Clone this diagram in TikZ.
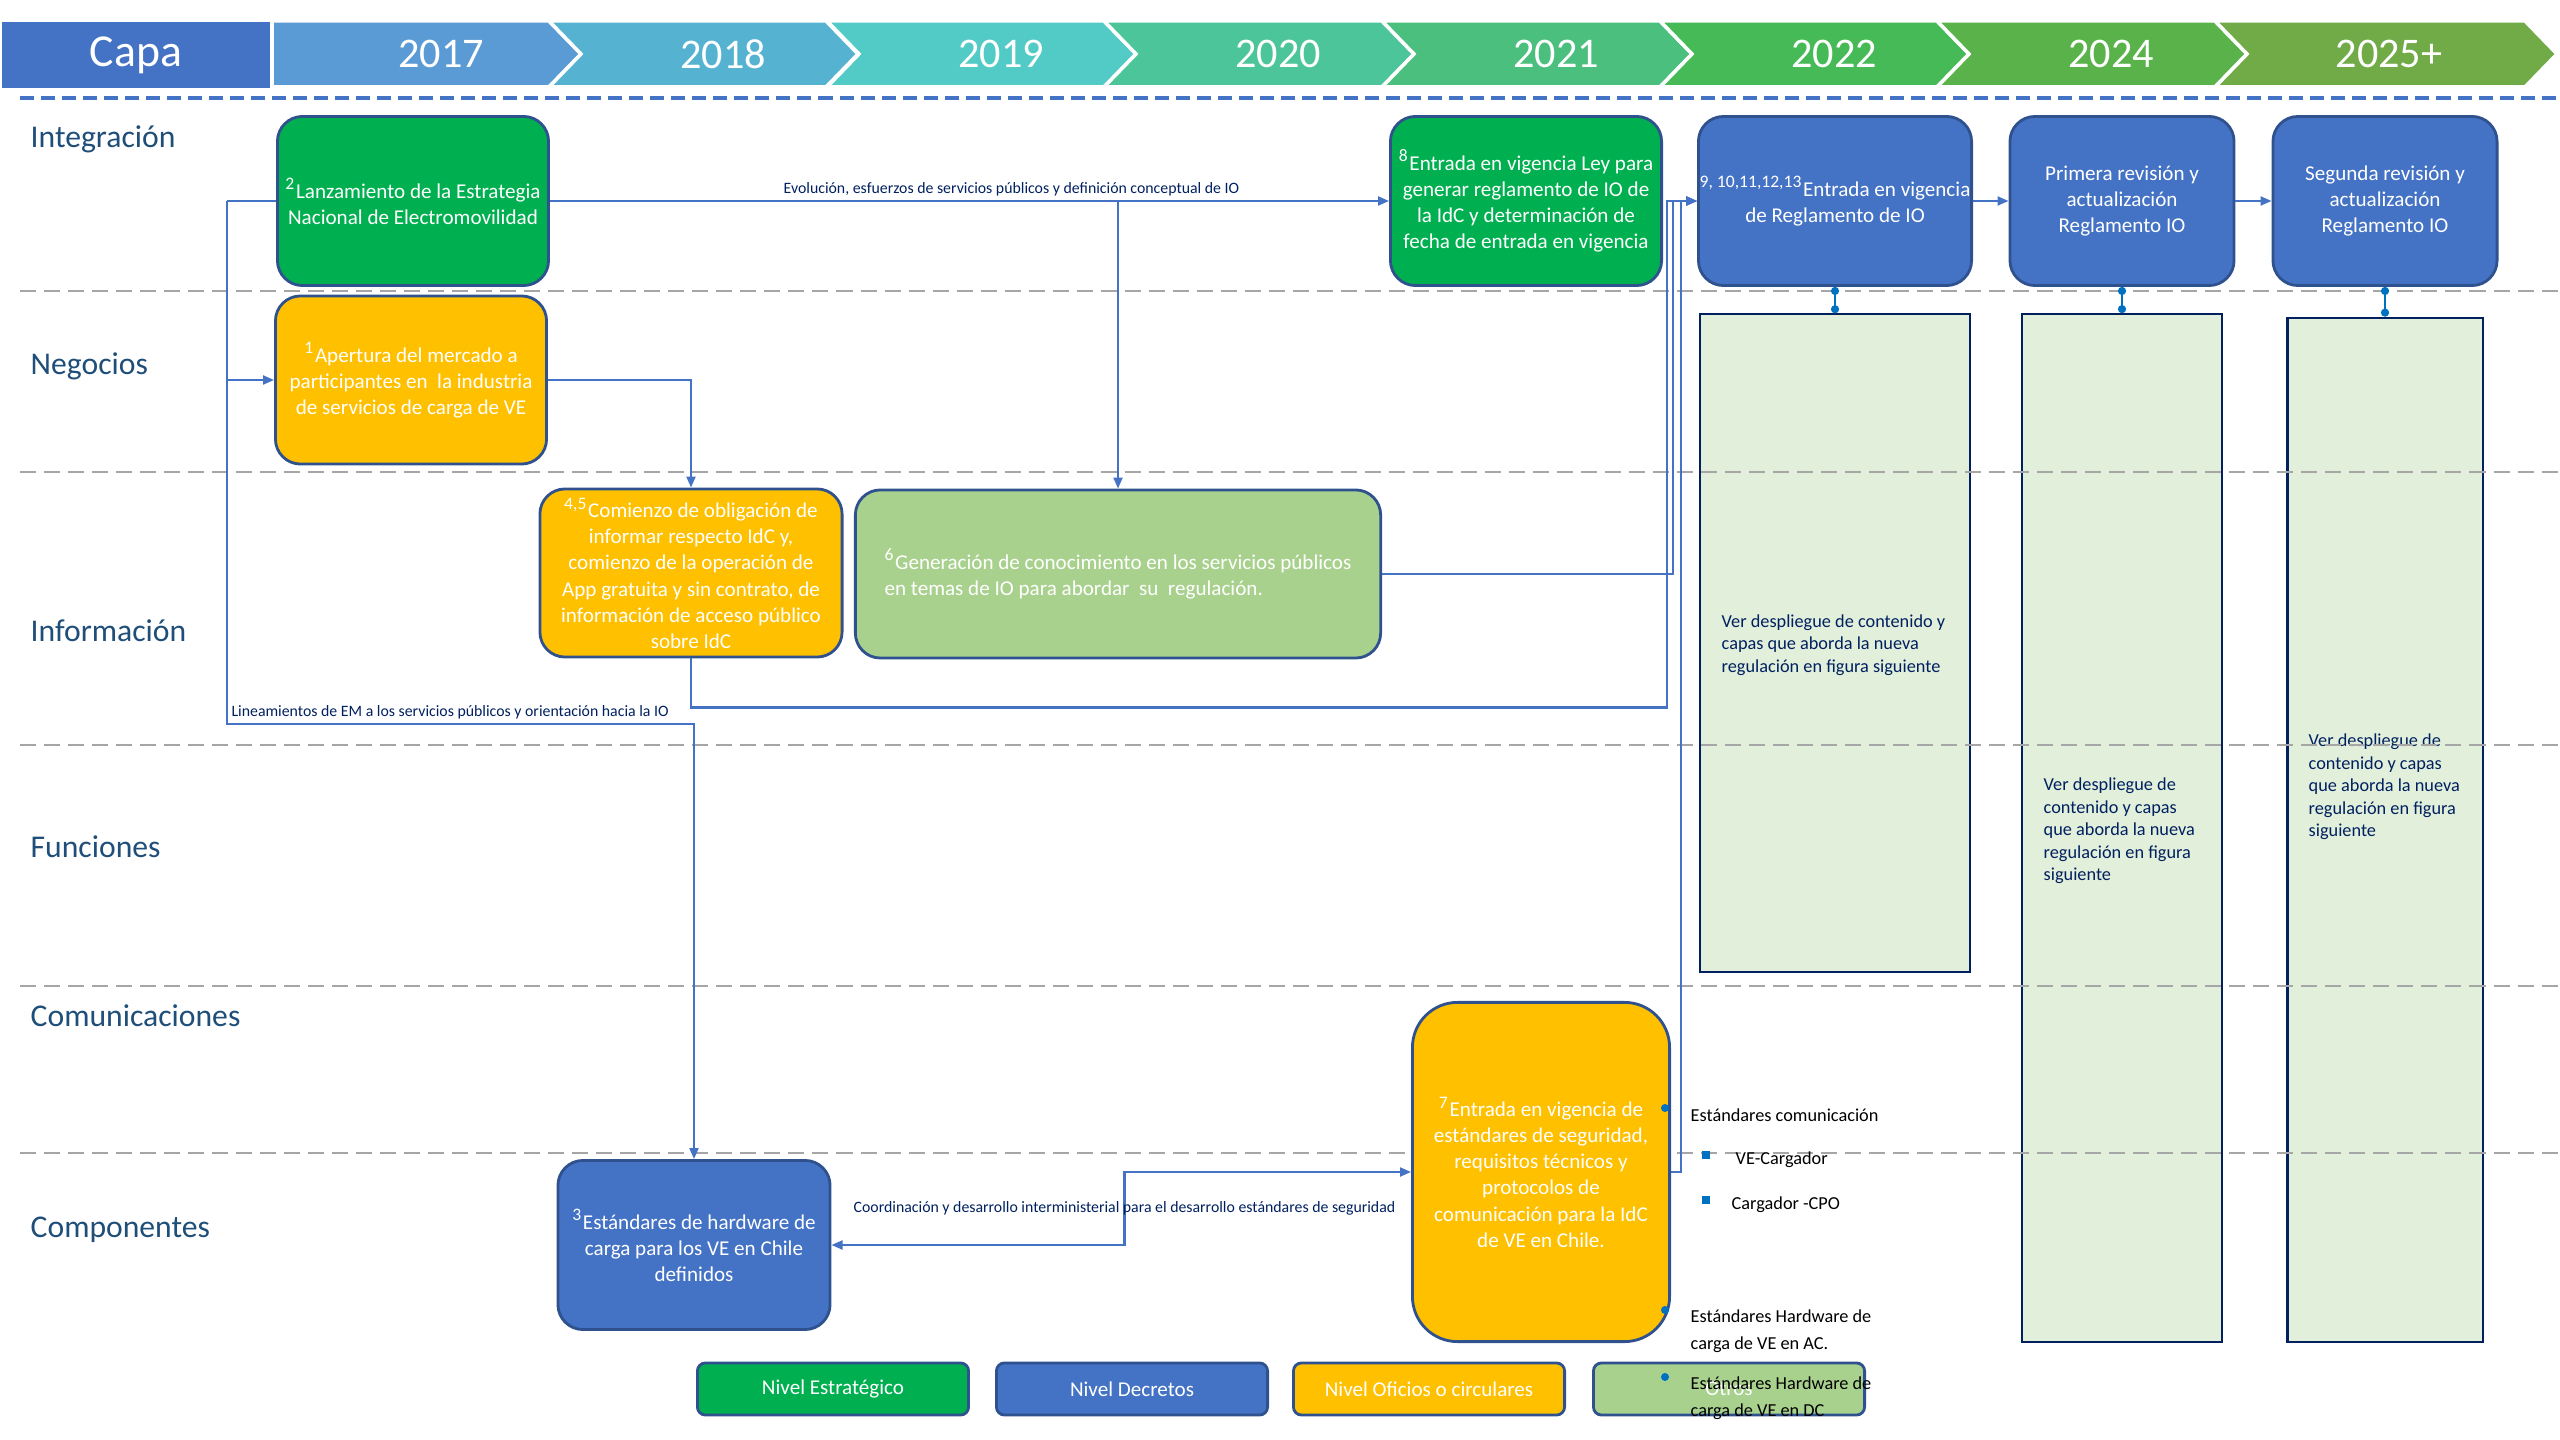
\documentclass[tikz,border=0pt]{standalone}
\usepackage{fontspec}
\setmainfont{Carlito}
\usepackage{xcolor}
\usetikzlibrary{arrows.meta}
\definecolor{azul}{HTML}{4472C4}
\definecolor{borde}{HTML}{2F528F}
\definecolor{verde}{HTML}{00B050}
\definecolor{naranja}{HTML}{FFC000}
\definecolor{verdec}{HTML}{A9D18E}
\definecolor{pasto}{HTML}{E2EFDA}
\definecolor{marino}{HTML}{002060}
\definecolor{capatxt}{HTML}{1F4E79}
\definecolor{punto}{HTML}{0070C0}
\definecolor{gris}{HTML}{A6A6A6}
\definecolor{c17}{HTML}{5B9BD5}
\definecolor{c18}{HTML}{56B2D1}
\definecolor{c19}{HTML}{52CBC6}
\definecolor{c20}{HTML}{4DC59B}
\definecolor{c21}{HTML}{4BBF7E}
\definecolor{c22}{HTML}{47BA58}
\definecolor{c24}{HTML}{5AB34A}
\definecolor{c25}{HTML}{71AB48}

\begin{document}
\begin{tikzpicture}[x=0.01cm,y=-0.01cm,
  sz/.style 2 args={minimum width=#1cm,minimum height=#2cm},
  box/.style={draw=borde,line width=0.8pt,rounded corners=0.25cm,text=white,align=center,inner sep=0pt,font=\fontsize{6}{7.4}\selectfont},
  strat/.style={box,fill=verde},
  decr/.style={box,fill=azul},
  ofic/.style={box,fill=naranja},
  otro/.style={box,fill=verdec},
  leg/.style={sz={2.71}{0.52},rounded corners=0.08cm},
  nota/.style={draw=marino,line width=0.6pt,fill=pasto},
  notatxt/.style={text=marino,align=left,inner sep=0pt,font=\fontsize{5.2}{6.4}\selectfont},
  capa/.style={text=capatxt,inner sep=0pt,font=\fontsize{9}{10}\selectfont},
  anio/.style={text=white,font=\fontsize{12}{14}\selectfont},
  lbl/.style={text=marino,inner sep=1pt,font=\fontsize{4.5}{5.4}\selectfont},
  std/.style={align=left,inner sep=0pt,font=\fontsize{5.2}{7.6}\selectfont},
  flecha/.style={azul,line width=0.6pt,-{Triangle[length=0.11cm,width=0.09cm]}},
  doble/.style={azul,line width=0.6pt,{Triangle[length=0.11cm,width=0.09cm]}-{Triangle[length=0.11cm,width=0.09cm]}},
  enlace/.style={punto,line width=0.8pt,{Circle[length=0.08cm]}-{Circle[length=0.08cm]}},
  sep/.style={gris,line width=0.8pt,dash pattern=on 0.16cm off 0.08cm}]
\useasboundingbox (0,0) rectangle (2560,1440);

\node[fill=azul,text=white,sz={2.67}{0.65},font=\fontsize{13}{15}\selectfont] (capa) at (136,55) {\raisebox{-0.6pt}{Capa}};
\filldraw[fill=c17,draw=white,line width=1pt] (272,21) -- (549,21) -- (581,54) -- (549,87) -- (272,87) -- cycle;
\node[anio] (anio0) at (441,54) {2017};
\foreach \xa/\w/\yr/\col [count=\i] in {549/277/2018/c18,827/277/2019/c19,1104/278/2020/c20,1382/278/2021/c21,1660/277/2022/c22,1937/278/2024/c24,2215/310/2025+/c25}
{
  \filldraw[fill=\col,draw=white,line width=1pt] (\xa,21) -- ++(\w,0) -- ++(32,33) -- ++(-32,33) -- ++(-\w,0) -- ++(32,-33) -- cycle;
  \node[anio] (anio\i) at (\xa+174,54) {\yr};
}

\node[nota,sz={2.69}{6.57}] (tA) at (1835,643) {};
\node[nota,sz={2.00}{10.27}] (tB) at (2122,828) {};
\node[nota,sz={1.95}{10.24}] (tC) at (2385,830) {};
\node[notatxt,anchor=west] (tAt) at (1721,645) {Ver despliegue de contenido y\\capas que aborda la nueva\\regulación en figura siguiente};
\node[notatxt,anchor=west] (tBt) at (2043,831) {Ver despliegue de\\contenido y capas\\que aborda la nueva\\regulación en figura\\siguiente};
\node[notatxt,anchor=west] (tCt) at (2308,787) {Ver despliegue de\\contenido y capas\\que aborda la nueva\\regulación en figura\\siguiente};

\draw[azul,line width=0.9pt,dash pattern=on 0.14cm off 0.07cm] (20,98) -- (2560,98);
\foreach \yy in {291,472,745,986,1153}
  \draw[sep] (20,\yy) -- (2560,\yy);

\foreach \nm/\yy/\txt in {lint/139/Integración,lneg/366/Negocios,linf/631/Información,lfun/847/Funciones,lcom/1016/Comunicaciones,lcmp/1230/Componentes}
  \node[capa,anchor=west] (\nm) at (30,\yy) {\txt};

\node[strat,sz={2.71}{1.69}] (lanz) at (413,201) {\textsuperscript{2}Lanzamiento de la Estrategia\\Nacional de Electromovilidad};
\node[ofic,sz={2.71}{1.68}] (apert) at (411,380) {\textsuperscript{1}Apertura del mercado a\\participantes en~ la industria\\de servicios de carga de VE};
\node[ofic,sz={3.02}{1.68}] (oblig) at (691,573) {\textsuperscript{4,5}Comienzo de obligación de\\informar respecto IdC y,\\comienzo de la operación de\\App gratuita y sin contrato, de\\información de acceso público\\sobre IdC};
\node[otro,sz={5.25}{1.68},align=left] (gen) at (1118,574) {\textsuperscript{6}Generación de conocimiento en los servicios públicos\\en temas de IO para abordar~ su~ regulación.};
\node[strat,sz={2.71}{1.69}] (ley) at (1526,201) {\textsuperscript{8}Entrada en vigencia Ley para\\generar reglamento de IO de\\la IdC y determinación de\\fecha de entrada en vigencia};
\node[decr,sz={2.73}{1.69}] (regl) at (1835,201) {\textsuperscript{9, 10,11,12,13}Entrada en vigencia\\de Reglamento de IO};
\node[decr,sz={2.24}{1.69}] (prim) at (2122,201) {Primera revisión y\\actualización\\Reglamento IO};
\node[decr,sz={2.24}{1.69}] (segrev) at (2385,201) {Segunda revisión y\\actualización\\Reglamento IO};
\node[ofic,sz={2.57}{3.39},rounded corners=0.45cm] (segur) at (1541,1172) {\textsuperscript{7}Entrada en vigencia de\\estándares de seguridad,\\requisitos técnicos y\\protocolos de\\comunicación para la IdC\\de VE en Chile.};
\node[decr,sz={2.72}{1.69}] (hw) at (694,1245) {\textsuperscript{3}Estándares de hardware de\\carga para los VE en Chile\\definidos};

\draw[flecha] (lanz) -- (ley) node[lbl,above,pos=0.55] {Evolución, esfuerzos de servicios públicos y definición conceptual de IO};
\draw[flecha] (lanz.east -| gen.north) -- (gen.north);
\coordinate (tronco) at ([xshift=-0.49cm]lanz.west);
\draw[azul,line width=0.6pt] (lanz.west) -- (tronco);
\draw[flecha] (tronco) |- (apert.west);
\draw[flecha] (tronco) -- ++(0,523) node[lbl,above right] {Lineamientos de EM a los servicios públicos y orientación hacia la IO} -| (hw.north);
\draw[flecha] (apert.east) -| (oblig.north);
\draw[flecha] (oblig.south) -- ++(0,49) -| ([xshift=0.04cm]ley.east) -- (regl.west);
\draw[flecha] (gen.east) -| ([xshift=0.1cm]ley.east) -- (regl.west);
\draw[flecha] (segur.east) -| ([xshift=0.18cm]ley.east) -- (regl.west);
\draw[flecha] (regl) -- (prim);
\draw[flecha] (prim) -- (segrev);
\draw[doble] (hw.east) -- ++(293,0) |- (segur.west) node[lbl,pos=0.25] {Coordinación y desarrollo interministerial para el desarrollo estándares de seguridad};
\draw[enlace] (regl) -- (tA);
\draw[enlace] (prim) -- (tB);
\draw[enlace] (segrev) -- (tC);

\node[strat,leg] (lstrat) at (833,1389) {Nivel Estratégico};
\node[decr,leg] (ldecr) at (1132,1389) {Nivel Decretos};
\node[ofic,leg] (lofic) at (1429,1389) {Nivel Oficios o circulares};
\node[otro,leg] (lotro) at (1729,1389) {Otros};

\foreach \yy in {1108,1310,1377}
  \fill[punto] (1665,\yy) circle (0.04cm);
\foreach \yy in {1155,1200}
  \fill[punto] (1702,\yy-4) rectangle ++(8,8);
\node[std,anchor=west] (ecom) at (1690,1115) {Estándares comunicación};
\node[std,anchor=west] (vecar) at (1735,1160) {VE-Cargador};
\node[std,anchor=west] (carcpo) at (1731,1205) {Cargador -CPO};
\node[std,anchor=west] (ehwac) at (1690,1331) {Estándares Hardware de\\carga de VE en AC.};
\node[std,anchor=west] (ehwdc) at (1690,1398) {Estándares Hardware de\\carga de VE en DC};
\end{tikzpicture}
\end{document}
